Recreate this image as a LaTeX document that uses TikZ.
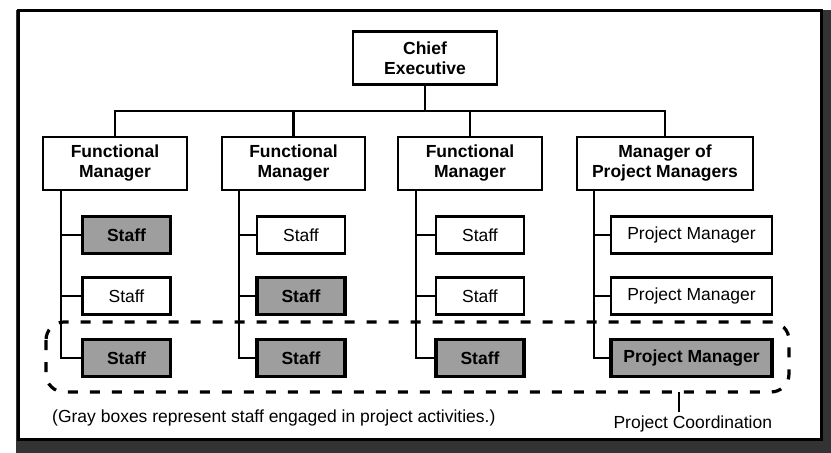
\documentclass[tikz,border=0pt]{standalone}
\usepackage{fontspec}
\setmainfont{Liberation Sans}
\usetikzlibrary{calc}

\tikzset{
  boss/.style={draw, line width=2.6pt, align=center, inner sep=0pt, minimum height=53pt,
    font=\bfseries\fontsize{17.5}{20}\selectfont},
  staff/.style={draw, line width=2.4pt, inner sep=0pt, minimum height=37pt, minimum width=88pt,
    font=\fontsize{17.5}{20}\selectfont},
  busy/.style={staff, line width=3.4pt, fill=black!38, font=\bfseries\fontsize{17.5}{20}\selectfont},
  wire/.style={line width=2.4pt},
}

\begin{document}
\begin{tikzpicture}[x=1pt, y=-1pt]
    \useasboundingbox (0,0) rectangle (831,453);

    % Frame
    \fill[black!80] (16,10) rectangle (831,453);
    \draw[line width=3pt, fill=white] (18,10) rectangle (821,439);

    % Heads
    \node[boss, minimum width=144pt] (chief) at (425,58) {Chief\\Executive};
    \node[boss, minimum width=144pt] (fm1) at (115,163.5) {Functional\\Manager};
    \node[boss, minimum width=143pt] (fm2) at (293.5,163.5) {Functional\\Manager};
    \node[boss, minimum width=144pt] (fm3) at (470,163.5) {Functional\\Manager};
    \node[boss, minimum width=176pt] (mpm) at (665,163.5) {Manager of\\Project Managers};

    % Bus
    \coordinate (bus) at (0,111);
    \draw[wire] (chief.south) -- (chief.south |- bus);
    \draw[wire] (fm1.north) -- (fm1.north |- bus) -- (mpm.north |- bus) -- (mpm.north);
    \draw[wire] (fm2.north) -- (fm2.north |- bus);
    \draw[wire] (fm3.north) -- (fm3.north |- bus);

    % Staff
    \node[busy] (s11) at (126.5,235) {Staff};
    \node[staff] (s12) at (126.5,296) {Staff};
    \node[busy] (s13) at (126.5,358) {Staff};
    \node[staff] (s21) at (301,235) {Staff};
    \node[busy] (s22) at (301,296) {Staff};
    \node[busy] (s23) at (301,358) {Staff};
    \node[staff] (s31) at (480,235) {Staff};
    \node[staff] (s32) at (480,296) {Staff};
    \node[busy] (s33) at (480,358) {Staff};
    \node[staff, minimum width=161pt] (p1) at (691.5,235) {Project Manager};
    \node[staff, minimum width=161pt] (p2) at (691.5,296) {Project Manager};
    \node[busy, minimum width=161pt] (p3) at (691.5,358) {Project Manager};

    % Drop lines
    \coordinate (d1) at ($(fm1.south west)+(19,0)$);
    \coordinate (d2) at ($(fm2.south west)+(18,0)$);
    \coordinate (d3) at ($(fm3.south west)+(19,0)$);
    \coordinate (d4) at ($(mpm.south west)+(18,0)$);
    \draw[wire] (d1) |- (s13.west);
    \draw[wire] (s11.west) -- (s11.west -| d1);
    \draw[wire] (s12.west) -- (s12.west -| d1);
    \draw[wire] (d2) |- (s23.west);
    \draw[wire] (s21.west) -- (s21.west -| d2);
    \draw[wire] (s22.west) -- (s22.west -| d2);
    \draw[wire] (d3) |- (s33.west);
    \draw[wire] (s31.west) -- (s31.west -| d3);
    \draw[wire] (s32.west) -- (s32.west -| d3);
    \draw[wire] (d4) |- (p3.west);
    \draw[wire] (p1.west) -- (p1.west -| d4);
    \draw[wire] (p2.west) -- (p2.west -| d4);

    % Project coordination
    \draw[line width=3.2pt, dash pattern=on 10pt off 12pt, rounded corners=18pt]
        (46,322) rectangle (789,392);

    % Notes
    \node[anchor=base west, inner sep=0pt, font=\fontsize{17.5}{20}\selectfont] (note) at (52,422)
        {(Gray boxes represent staff engaged in project activities.)};
    \node[anchor=base west, font=\fontsize{17.5}{20}\selectfont] (coord) at (610,428) {Project Coordination};
    \coordinate (tick) at (679,392);
    \draw[wire] (tick) -- (tick |- coord.north);

\end{tikzpicture}
\end{document}
